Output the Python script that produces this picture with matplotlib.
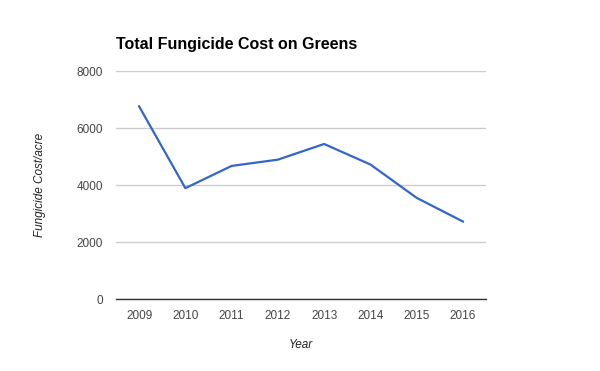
import matplotlib
matplotlib.use("Agg")
import matplotlib.pyplot as plt

# values
years = ["2009", "2010", "2011", "2012", "2013", "2014", "2015", "2016"]
cost = [6760, 3890, 4670, 4890, 5440, 4720, 3550, 2720]
yticks = [0, 2000, 4000, 6000, 8000]

plt.rcParams['font.family'] = ['Liberation Sans', 'DejaVu Sans']

fig = plt.figure(figsize=(6, 3.71), dpi=100)
ax = fig.add_axes([0.1933, 0.194, 0.6167, 0.6146])

x = list(range(len(years)))
ax.plot(x, cost, color='#3366cc', linewidth=1.6, solid_joinstyle='round')

ax.set_xlim(-0.5, len(years) - 0.5)
ax.set_ylim(0, 8000)
ax.set_yticks(yticks)
ax.set_xticks(x)
ax.set_xticklabels(years)
ax.grid(axis='y', color='#cccccc', linewidth=1)
ax.set_axisbelow(True)

for s in ['top', 'right', 'left']:
    ax.spines[s].set_visible(False)
ax.spines['bottom'].set_color('#333333')
ax.spines['bottom'].set_linewidth(1)
ax.tick_params(axis='both', length=0, labelsize=8.5, colors='#444444')
ax.tick_params(axis='y', pad=9.4)
ax.tick_params(axis='x', pad=8)

ax.set_xlabel('Year', fontsize=8.5, style='italic', color='#222222', labelpad=12.5)
ax.set_ylabel('Fungicide Cost/acre', fontsize=8.5, style='italic', color='#222222', labelpad=22)

fig.text(116 / 600, 1 - 45 / 371, 'Total Fungicide Cost on Greens', fontsize=11.5,
         fontweight='bold', color='#000000', va='center', ha='left')

fig.savefig('out.png', dpi=100)
